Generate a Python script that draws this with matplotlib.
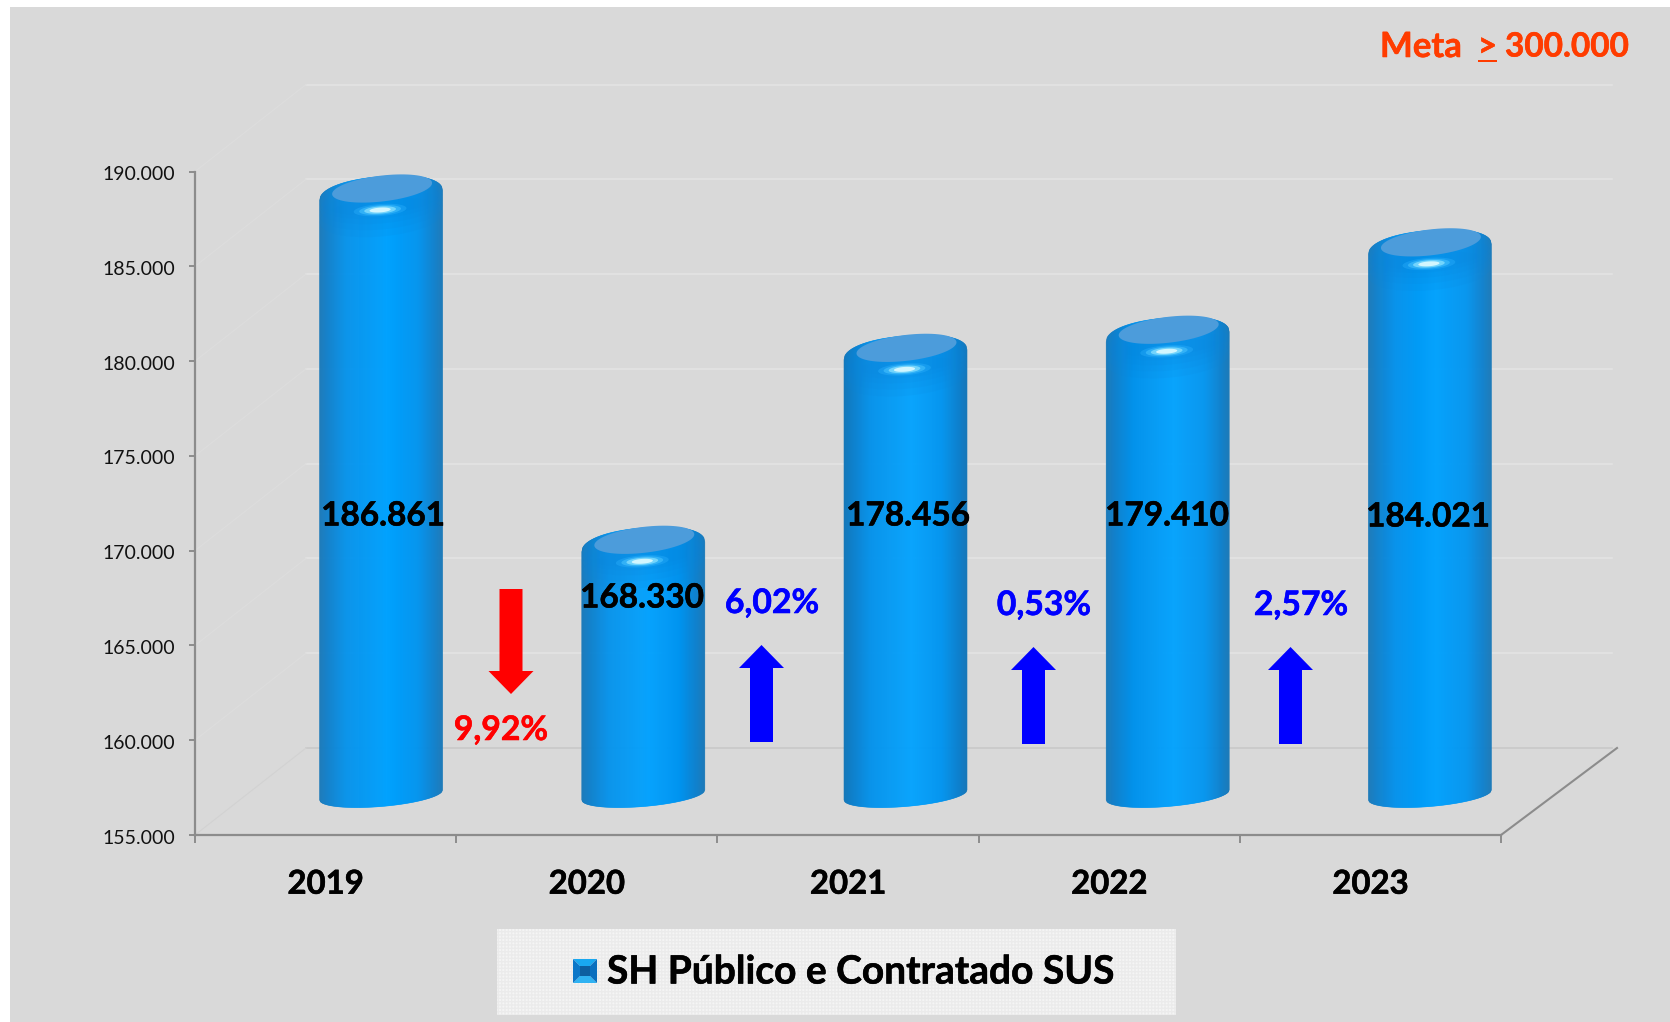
import matplotlib
matplotlib.use("Agg")
import matplotlib.pyplot as plt
import numpy as np
import matplotlib.patheffects as pe
from matplotlib.colors import LinearSegmentedColormap
from matplotlib.patches import Polygon, Rectangle
from matplotlib.transforms import Affine2D, IdentityTransform

years = ["2019", "2020", "2021", "2022", "2023"]
values = [186861, 168330, 178456, 179410, 184021]
value_labels = ["186.861", "168.330", "178.456", "179.410", "184.021"]
y_ticks = [155000, 160000, 165000, 170000, 175000, 180000, 185000, 190000]
y_tick_labels = ["155.000", "160.000", "165.000", "170.000", "175.000", "180.000", "185.000", "190.000"]
changes = ["9,92%", "6,02%", "0,53%", "2,57%"]
legend_label = "SH Público e Contratado SUS"

W, H = 1670, 1022
plt.rcParams["font.family"] = ["Lato", "DejaVu Sans"]

fig = plt.figure(figsize=(W / 100, H / 100), dpi=100, facecolor="white")


def px(x, y):
    # pixel position measured from the top left of the picture, to display coords
    return x, H - y


def draw_poly(pts, **kw):
    fig.add_artist(Polygon(pts, closed=True, transform=IdentityTransform(), **kw))


def heavy(lw=0.4, color="black"):
    # Lato bold is a bit lighter than the slide font
    return [pe.withStroke(linewidth=lw, foreground=color)]


# grey panel behind everything
fig.add_artist(Rectangle((10, 0), W - 10, H - 7, transform=IdentityTransform(),
                         facecolor="#D9D9D9", edgecolor="none", zorder=-5))

ax = fig.add_axes([195 / W, (H - 835) / H, 1306 / W, (835 - 171.5) / H])
ax.patch.set_visible(False)
ax.set_xlim(0, 5)
ax.set_ylim(155000, 190000)

for s in ["top", "right"]:
    ax.spines[s].set_visible(False)
for s in ["left", "bottom"]:
    ax.spines[s].set_color("#8C8C8C")
    ax.spines[s].set_linewidth(1.6)

ax.set_yticks(y_ticks)
ax.set_yticklabels(y_tick_labels, fontsize=14, color="#111111")
ax.tick_params(axis="y", length=4, width=1.4, color="#8C8C8C", pad=10)
for lab in ax.get_yticklabels():
    lab.set_transform(lab.get_transform() + Affine2D().translate(0, -1.5))
ax.set_xticks(range(6))
ax.set_xticklabels([])
ax.tick_params(axis="x", length=6, width=1.4, color="#8C8C8C")
ax.set_xticks(np.arange(5) + 0.5, minor=True)
ax.set_xticklabels(years, minor=True, fontsize=23.7, fontweight="bold", path_effects=heavy())
ax.tick_params(axis="x", which="minor", length=0, pad=25)

# 3D look: the wall and floor are the axes shifted back in depth
DEPTH = (111, 87)
back = ax.transData + Affine2D().translate(*DEPTH)
mid = ax.transData + Affine2D().translate(57.5, DEPTH[1] / 2)

for i, t in enumerate(y_ticks):
    col = "#C9C9C9" if i == 0 else "#E3E3E3"
    ax.plot([0, 5], [t, t], color=col, lw=1.2, transform=back, clip_on=False, zorder=1)
    x0, y0 = ax.transData.transform((0, t))
    ax.plot([x0, x0 + DEPTH[0]], [y0, y0 + DEPTH[1]], color="#D2D2D2" if i == 0 else "#DDDDDD", lw=0.8,
            transform=IdentityTransform(), clip_on=False, zorder=1)
x0, y0 = ax.transData.transform((5, 155000))
ax.plot([x0, x0 + DEPTH[0] + 5], [y0, y0 + DEPTH[1]], color="#8C8C8C", lw=1.5,
        transform=IdentityTransform(), clip_on=False, zorder=2)

# horizontal shading of the cylinders
shade = LinearSegmentedColormap.from_list(
    "cyl", [(0, "#1878B8"), (0.07, "#0C7FCC"), (0.22, "#0392EC"), (0.55, "#00A2FF"),
            (0.8, "#0094F0"), (0.94, "#0C7FCC"), (1, "#1878B8")])

A, RIM_B, RIM_K = 61.5, 19, 5
BOT_B, BOT_K = 11.5, 5
CAP_A, CAP_B, CAP_K = 50, 13, 5.5
N = 124


def shoulder(u):
    # flatter than an ellipse, the rim of the cylinder is rounded off
    return (1 - np.abs(u) ** 2.2) ** (1 / 2.2)


def ellipse_pts(cx, cy, a, b, k, n=80):
    t = np.linspace(0, 2 * np.pi, n)
    return np.column_stack([cx + a * np.cos(t), cy + b * np.sin(t) + k * np.cos(t)])


def rim_pts(cx, cy, n=80):
    u = np.linspace(-1, 1, n)
    upper = cy + RIM_K * u + RIM_B * shoulder(u)
    lower = cy + RIM_K * u - RIM_B * np.sqrt(1 - u ** 2)
    return np.concatenate([cx + A * u, cx + A * u[::-1]]), np.concatenate([upper, lower[::-1]])


for i, v in enumerate(values):
    cx, top = mid.transform((i + 0.5, v))
    cx += (i - 2) * 1.0
    top -= 1
    _, base = mid.transform((i + 0.5, 155000))
    base -= 3.5
    rim = top - 7
    edges = np.linspace(-1, 1, N + 1)
    for j in range(N):
        u = edges[j:j + 2]
        up = rim + RIM_K * u + RIM_B * shoulder(u)
        lo = base + BOT_K * u - BOT_B * np.sqrt(1 - u ** 2)
        x = cx + A * u
        c = shade((u.mean() + 1) / 2)
        ax.fill([x[0], x[1], x[1], x[0]], [lo[0], lo[1], up[1], up[0]], color=c, lw=0.4,
                transform=IdentityTransform(), clip_on=False, zorder=3)
    # bevel, flat top and the small highlight
    for d in [22, 15, 9, 4, 0]:
        ax.fill(*rim_pts(cx, rim - d), color="#0A86DC", alpha=0.13, lw=0,
                transform=IdentityTransform(), clip_on=False, zorder=3.1)
    ax.fill(*ellipse_pts(cx + 1, top, CAP_A, CAP_B, CAP_K).T, color="#4C9CDB", lw=0,
            transform=IdentityTransform(), clip_on=False, zorder=3.2)
    hx, hy = cx - 1, top - 21.5
    for scale, col, al in [(1.2, "#30B4FF", 0.35), (0.95, "#50C8FF", 0.5), (0.72, "#90E4FF", 0.7),
                           (0.48, "#D8F8FF", 0.95)]:
        ax.fill(*ellipse_pts(hx, hy, 22 * scale, 5 * scale, 1.5 * scale).T, color=col, alpha=al, lw=0,
                transform=IdentityTransform(), clip_on=False, zorder=3.3)

# value labels, written on the cylinders
label_pos = [(383, 516), (642, 598), (908, 516), (1167, 516), (1428, 517)]
for (x, y), s in zip(label_pos, value_labels):
    fig.text(x / W, 1 - y / H, s, ha="center", va="center", fontsize=24, fontweight="bold",
             color="black", zorder=10, path_effects=heavy())

# change arrows and their labels
RED, BLUE = "#FF0000", "#0000FF"


def up_arrow(xc, tip, head_base, bottom, color):
    pts = [(xc - 11.5, bottom), (xc + 11.5, bottom), (xc + 11.5, head_base), (xc + 22.5, head_base),
           (xc, tip), (xc - 22.5, head_base), (xc - 11.5, head_base)]
    draw_poly([px(*p) for p in pts], facecolor=color, edgecolor="none", zorder=9)


up_arrow(511, 694, 671, 589, RED)
up_arrow(761.5, 645, 668, 742, BLUE)
up_arrow(1033.5, 647, 670, 744, BLUE)
up_arrow(1290.5, 647, 670, 744, BLUE)

change_pos = [(501, 730), (772, 603), (1044, 605), (1301, 605)]
change_cols = [RED, BLUE, BLUE, BLUE]
for (x, y), s, c in zip(change_pos, changes, change_cols):
    fig.text(x / W, 1 - y / H, s, ha="center", va="center", fontsize=24.3, fontweight="bold",
             color=c, zorder=10, path_effects=heavy(color=c))

# goal text, the sign is underlined by hand as in the slide
META = "#FF3C00"
meta_kw = dict(va="center", fontweight="bold", color=META, path_effects=heavy(color=META))
fig.text(1380 / W, 1 - 47 / H, "Meta", ha="left", fontsize=25, **meta_kw)
fig.text(1487.5 / W, 1 - 47 / H, ">", ha="center", fontsize=24, **meta_kw)
fig.text(1629 / W, 1 - 47 / H, "300.000", ha="right", fontsize=24, **meta_kw)
fig.add_artist(Rectangle(px(1478, 62), 19, 2.2, transform=IdentityTransform(), facecolor=META, edgecolor="none"))

# legend box
fig.add_artist(Rectangle(px(497, 1015), 679, 86, transform=IdentityTransform(), facecolor="#F5F5F5",
                         edgecolor="#EBEBEB", hatch="+++++", lw=0, zorder=5))
sx0, sx1, sy0, sy1 = 573, 597, 959, 983
ix0, ix1, iy0, iy1 = 580, 590, 966, 976
facets = [
    ([(sx0, sy0), (sx1, sy0), (ix1, iy0), (ix0, iy0)], "#19A8F0"),
    ([(sx0, sy1), (sx1, sy1), (ix1, iy1), (ix0, iy1)], "#2FB2F2"),
    ([(sx0, sy0), (ix0, iy0), (ix0, iy1), (sx0, sy1)], "#0B77C8"),
    ([(sx1, sy0), (ix1, iy0), (ix1, iy1), (sx1, sy1)], "#0A6FBE"),
    ([(ix0, iy0), (ix1, iy0), (ix1, iy1), (ix0, iy1)], "#0D5FA0"),
]
for pts, c in facets:
    draw_poly([px(*p) for p in pts], facecolor=c, edgecolor="none", zorder=6)
fig.text(607 / W, 1 - 972 / H, legend_label, ha="left", va="center", fontsize=28, fontweight="bold",
         color="black", zorder=6, path_effects=heavy())

fig.savefig("out.png", dpi=100)
